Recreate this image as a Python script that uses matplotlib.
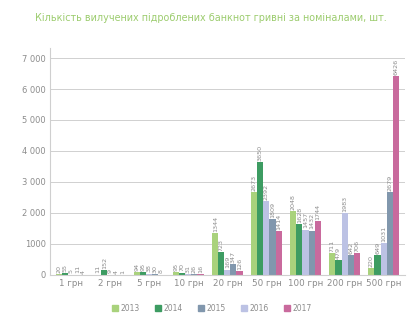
import matplotlib.pyplot as plt
import numpy as np

groups=['1 грн','2 грн','5 грн','10 грн','20 грн','50 грн','100 грн','200 грн','500 грн']
y2013=[20,11,94,95,1344,2673,2048,711,220]
y2014=[55,152,95,70,723,3650,1628,479,649]
y2016=[5,9,38,31,169,2392,1457,1983,1031]      # drawn 3rd (lavender)
y2015=[11,4,30,26,347,1809,1432,642,2679]      # drawn 4th (slate)
y2017=[4,1,8,16,126,1414,1744,706,6426]
yticks=[0,1000,2000,3000,4000,5000,6000,7000]
ylabels=['0','1000','2 000','3 000','4 000','5 000','6 000','7 000']

c13='#a9d27c'
c14='#3d9c62'
c15='#8197ad'
c16='#bcc2e4'
c17='#c96a9d'
grey='#8c8c8c'

fig=plt.figure(figsize=(4.15,3.23),dpi=100)
ax=fig.add_axes([0.12,0.149,0.856,0.703])

x=np.arange(len(groups))
w=0.155
series=[(y2013,c13),(y2014,c14),(y2016,c16),(y2015,c15),(y2017,c17)]
for k,(vals,col) in enumerate(series):
    pos=x+(k-2)*w
    ax.bar(pos,vals,w,color=col,linewidth=0)
    for p,v in zip(pos,vals):
        ax.text(p,v+40,str(v),rotation=90,ha='center',va='bottom',fontsize=4.6,color=grey)

ax.set_ylim(0,7330)
ax.set_xlim(-0.55,len(groups)-0.45)
ax.set_yticks(yticks)
ax.set_yticklabels(ylabels,fontsize=6,color=grey)
ax.set_xticks(x)
ax.set_xticklabels(groups,fontsize=6.3,color=grey)
ax.tick_params(axis='both',length=0,pad=3)
ax.grid(axis='y',color='#d0d0d0',linewidth=0.7)
ax.set_axisbelow(True)
for s in ['top','right']:
    ax.spines[s].set_visible(False)
ax.spines['left'].set_color('#cfcfcf')
ax.spines['bottom'].set_color('#cfcfcf')

#.........legend.................................................
handles=[plt.Rectangle((0,0),1,1,color=c) for c in [c13,c14,c15,c16,c17]]
fig.legend(handles,['2013','2014','2015','2016','2017'],loc='center',bbox_to_anchor=(0.51,0.045),
           ncol=5,frameon=False,fontsize=5.5,handlelength=0.8,handleheight=0.8,
           handletextpad=0.3,columnspacing=2.0,labelcolor=grey)

fig.text(0.084,0.945,'Кількість вилучених підроблених банкнот гривні за номіналами, шт.',
         fontsize=6.95,color='#9ccc6e',va='center')

fig.savefig('out.png',dpi=100)
